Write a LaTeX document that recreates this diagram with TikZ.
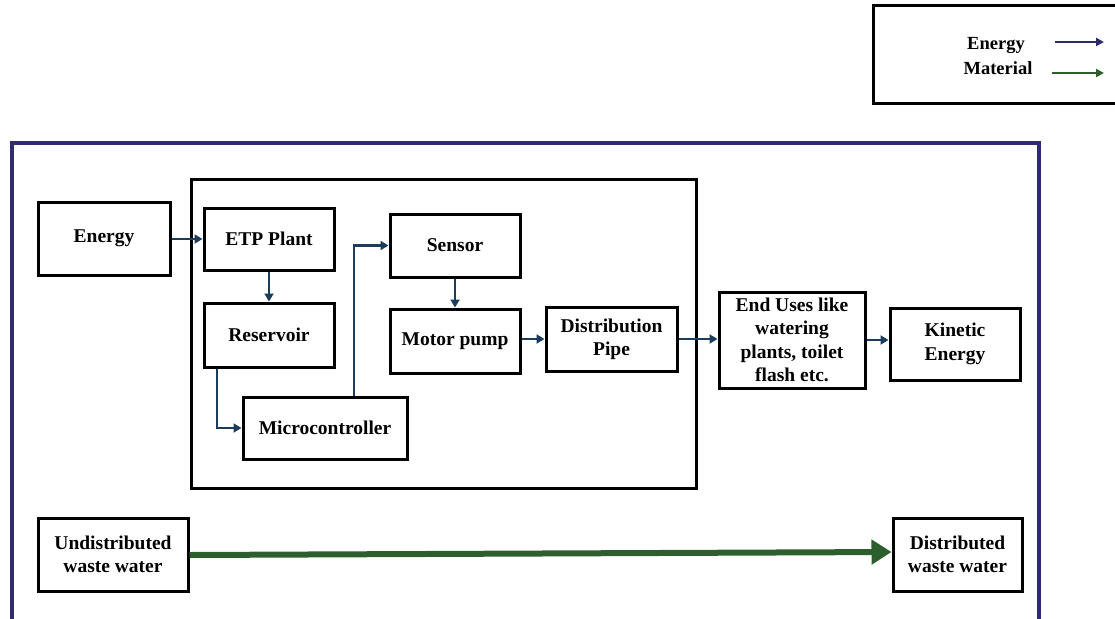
\documentclass[tikz,border=0pt]{standalone}
\usepackage{fontspec}
\setmainfont{Liberation Serif}
\usetikzlibrary{arrows.meta}
\definecolor{navyframe}{HTML}{2F2D6E}
\definecolor{flowblue}{HTML}{1D3C5C}
\definecolor{legblue}{HTML}{2B2A6B}
\definecolor{matgreen}{HTML}{2C5F2D}
\tikzset{
  blk/.style={draw=black, line width=3pt, align=center, inner sep=2pt,
    font=\fontsize{19.5}{23.3}\selectfont\bfseries},
  flow/.style={draw=flowblue, line width=2.8pt, -{Triangle[length=8pt,width=9pt]}},
  legtext/.style={font=\fontsize{18.5}{22}\selectfont\bfseries},
  legarrow/.style={line width=2.8pt, -{Triangle[length=8pt,width=8pt]}},
}
\begin{document}
\begin{tikzpicture}[x=1pt,y=-1pt]
\useasboundingbox (0,0) rectangle (1115,618);
\clip (0,0) rectangle (1115,618);
% legend
\draw[line width=3pt] (873,6) rectangle (1125,103);
\node[legtext] (legE) at (996,45) {Energy};
\node[legtext] (legM) at (998,68) {Material};
\coordinate (le1) at (1055,42);
\coordinate (le2) at (1104,42);
\coordinate (lm1) at (1052,73);
\coordinate (lm2) at (1104,73);
\draw[legarrow, draw=legblue] (le1) -- (le2);
\draw[legarrow, draw=matgreen] (lm1) -- (lm2);
% frames
\draw[draw=navyframe, line width=3.4pt] (12,143) rectangle (1039,640);
\draw[line width=3pt] (191,179) rectangle (696,488);
% nodes
\node[blk, minimum width=132pt, minimum height=73pt] (energy) at (104,238.5) {Energy};
\node[blk, minimum width=130pt, minimum height=62pt] (etp) at (269,239) {ETP Plant};
\node[blk, minimum width=130pt, minimum height=64pt] (res) at (269,335) {Reservoir};
\node[blk, minimum width=164pt, minimum height=62pt] (micro) at (325,428) {Microcontroller};
\node[blk, minimum width=130pt, minimum height=63pt] (sensor) at (455,245.5) {Sensor};
\node[blk, minimum width=130pt, minimum height=64pt] (motor) at (455,341) {Motor pump};
\node[blk, minimum width=131pt, minimum height=64pt] (dist) at (611.5,339) {Distribution\\Pipe};
\node[blk, minimum width=146pt, minimum height=96pt] (end) at (792,340) {End Uses like\\watering\\plants, toilet\\flash etc.};
\node[blk, minimum width=130pt, minimum height=72pt] (kin) at (955,344) {Kinetic\\Energy};
\node[blk, minimum width=150pt, minimum height=73pt] (undist) at (113,554.5) {Undistributed\\waste water};
\node[blk, minimum width=129pt, minimum height=73pt] (distw) at (957.5,554.5) {Distributed\\waste water};
% flows
\draw[flow] (energy.east |- etp.west) -- (etp.west);
\draw[flow] (etp.south) -- (res.north);
\draw[flow] ([xshift=-52pt]res.south) |- (micro.west);
\draw[flow] ([xshift=29pt]micro.north) |- (sensor.west);
\draw[flow] (sensor.south) -- (motor.north);
\draw[flow] (motor.east |- dist.west) -- (dist.west);
\draw[flow] (dist.east) -- (dist.east -| end.west);
\draw[flow] (end.east) -- (end.east -| kin.west);
\draw[draw=matgreen, line width=6pt, -{Triangle[length=20pt,width=24pt]}]
  ([yshift=-0.5pt]undist.east) -- ([yshift=2.5pt]distw.west);
\end{tikzpicture}
\end{document}
